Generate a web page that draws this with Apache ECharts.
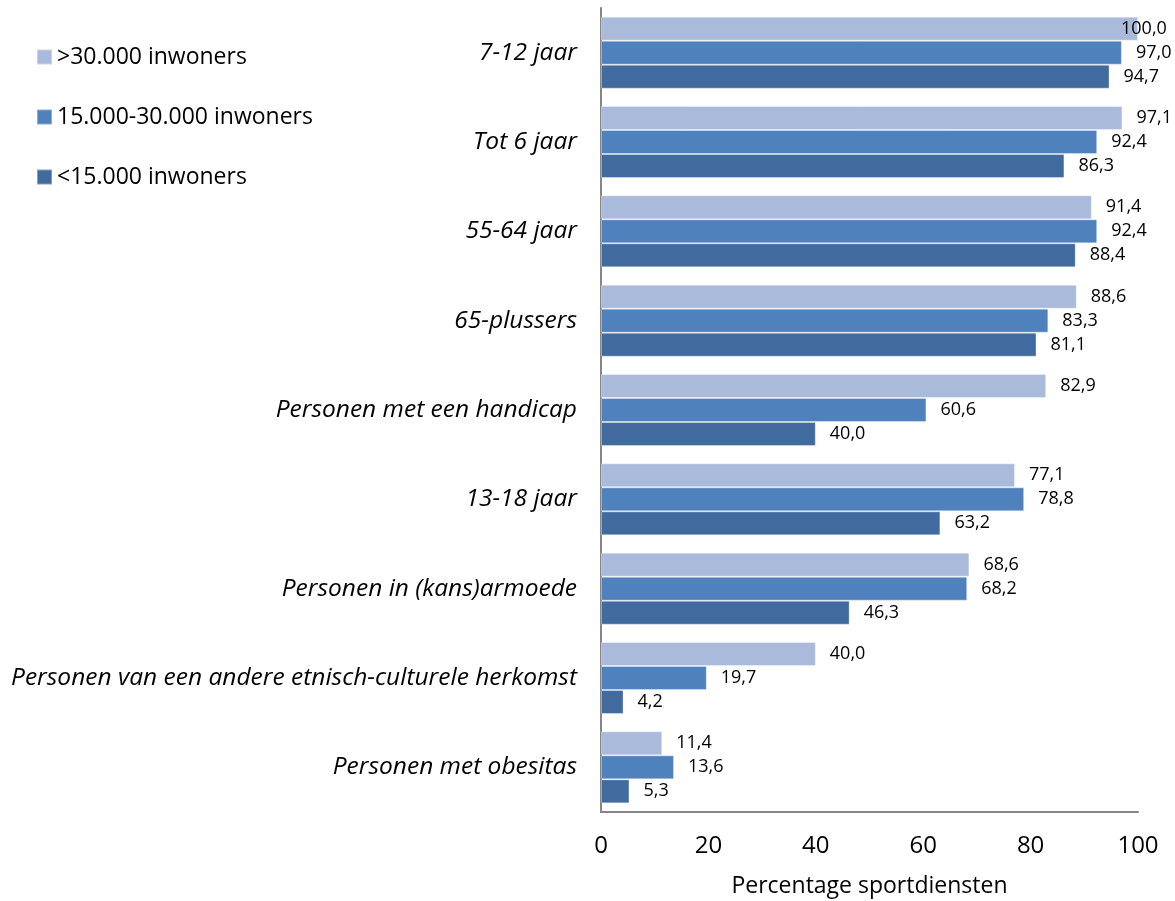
<!DOCTYPE html>
<html>
<head>
<meta charset="utf-8">
<script src="https://cdn.jsdelivr.net/npm/echarts@6/dist/echarts.min.js"></script>
<style>
  html, body { margin: 0; padding: 0; background: #fff; overflow: hidden; }
  #chart { width: 1175px; height: 901px; }
</style>
</head>
<body>
<div id="chart"></div>
<script>
// Doelgroepen (top to bottom)
const categories = [
  '7-12 jaar',
  'Tot 6 jaar',
  '55-64 jaar',
  '65-plussers',
  'Personen met een handicap',
  '13-18 jaar',
  'Personen in (kans)armoede',
  'Personen van een andere etnisch-culturele herkomst',
  'Personen met obesitas'
];

const seriesNames = ['>30.000 inwoners', '15.000-30.000 inwoners', '<15.000 inwoners'];

const groot = [100.0, 97.1, 91.4, 88.6, 82.9, 77.1, 68.6, 40.0, 11.4];
const middel = [97.0, 92.4, 92.4, 83.3, 60.6, 78.8, 68.2, 19.7, 13.6];
const klein = [94.7, 86.3, 88.4, 81.1, 40.0, 63.2, 46.3, 4.2, 5.3];

const xTicks = [0, 20, 40, 60, 80, 100];

const colors = ['#AABADA', '#4F81BD', '#416B9F'];
const FONT = 'Open Sans';

const fmt = v => v.toFixed(1).replace('.', ',');

function makeData(values) {
  // labels at the axis maximum are pulled back inside the plot area
  return values.map(v => v >= 100
    ? { value: v, label: { offset: [-31, 0] } }
    : v);
}

function makeSeries(name, values, color) {
  return {
    name: name,
    type: 'bar',
    data: makeData(values),
    barGap: '0%',
    barCategoryGap: '19.4%',
    itemStyle: { color: color, borderColor: 'rgba(255,255,255,0.35)', borderWidth: 1 },
    label: {
      show: true,
      position: 'right',
      distance: 14,
      color: '#000',
      fontFamily: FONT,
      fontSize: 18,
      formatter: p => fmt(p.value)
    },
    emphasis: { disabled: true }
  };
}

const chart = echarts.init(document.getElementById('chart'));
chart.setOption({
  animation: false,
  color: colors,
  legend: {
    orient: 'vertical',
    left: 36,
    top: 45,
    padding: 0,
    itemWidth: 15,
    itemHeight: 15,
    itemGap: 36,
    icon: 'rect',
    selectedMode: false,
    textStyle: { fontFamily: FONT, fontSize: 23, lineHeight: 24, color: '#000' },
    data: seriesNames
  },
  grid: {
    left: 601, right: 37, top: 8, bottom: 89,
    containLabel: false,
    outerBoundsMode: 'none'
  },
  xAxis: {
    type: 'value',
    min: xTicks[0],
    max: xTicks[xTicks.length - 1],
    interval: 20,
    axisLine: { show: true, lineStyle: { color: '#868686', width: 2 } },
    axisTick: { show: false },
    splitLine: { show: false },
    axisLabel: { fontFamily: FONT, fontSize: 24, color: '#000', margin: 22 },
    name: 'Percentage sportdiensten',
    nameLocation: 'middle',
    nameGap: 63,
    nameTextStyle: { fontFamily: FONT, fontSize: 23, color: '#000' }
  },
  yAxis: {
    type: 'category',
    inverse: true,
    data: categories,
    axisLine: { show: true, lineStyle: { color: '#868686', width: 2 } },
    axisTick: { show: false },
    axisLabel: { fontFamily: FONT, fontSize: 24.5, fontStyle: 'italic', color: '#000', margin: 24 }
  },
  series: [
    makeSeries(seriesNames[0], groot, colors[0]),
    makeSeries(seriesNames[1], middel, colors[1]),
    makeSeries(seriesNames[2], klein, colors[2])
  ]
});
</script>
</body>
</html>
